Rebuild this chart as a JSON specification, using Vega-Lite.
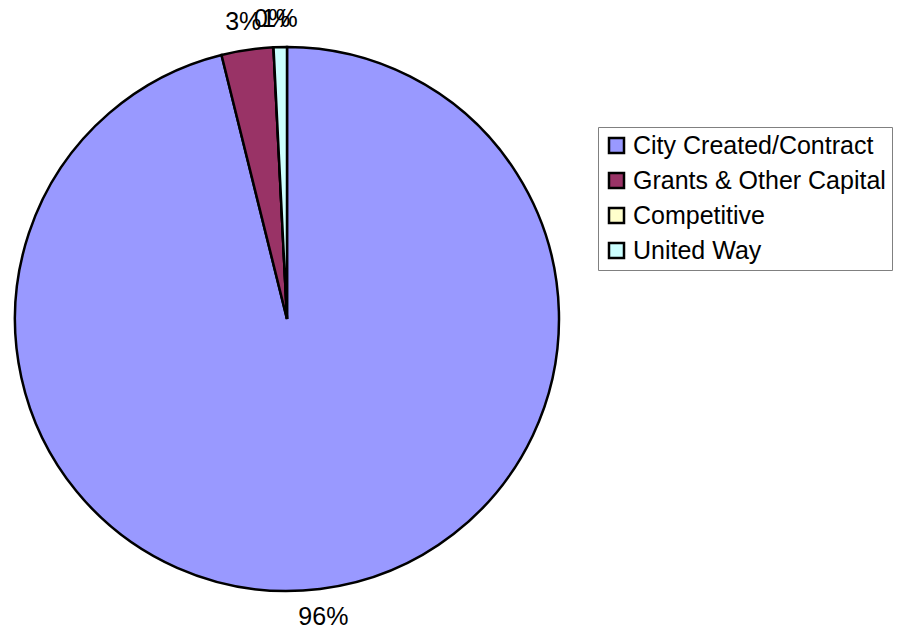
{
  "$schema": "https://vega.github.io/schema/vega-lite/v6.json",
  "width": 574,
  "height": 638,
  "autosize": {"type": "none"},
  "padding": {"left": 0, "top": 0, "right": 323, "bottom": 0},
  "background": "white",
  "config": {"view": {"stroke": null}, "font": "Liberation Sans"},
  "data": {
    "values": [
      {"category": "City Created/Contract", "value": 96.13, "label": "96%", "rank": 1},
      {"category": "Grants & Other Capital", "value": 3.08, "label": "3%", "rank": 2},
      {"category": "Competitive", "value": 0.0, "label": "0%", "rank": 3},
      {"category": "United Way", "value": 0.79, "label": "1%", "rank": 4}
    ]
  },
  "encoding": {
    "theta": {"field": "value", "type": "quantitative", "stack": true},
    "order": {"field": "rank", "type": "quantitative"}
  },
  "layer": [
    {
      "mark": {"type": "arc", "radius": 272, "stroke": "black", "strokeWidth": 2.5},
      "encoding": {
        "color": {
          "field": "category",
          "type": "nominal",
          "scale": {
            "domain": ["City Created/Contract", "Grants & Other Capital", "Competitive", "United Way"],
            "range": ["#9999FF", "#993366", "#FFFFCC", "#CCFFFF"]
          },
          "legend": {
            "title": null,
            "orient": "none",
            "legendX": 598,
            "legendY": 127,
            "symbolType": "square",
            "symbolSize": 225,
            "symbolStrokeColor": "black",
            "symbolStrokeWidth": 2.5,
            "labelFontSize": 25,
            "labelFont": "Liberation Sans",
            "labelColor": "black",
            "labelOffset": 4,
            "labelLimit": 400,
            "rowPadding": 9,
            "padding": 6,
            "strokeColor": "#808080",
            "fillColor": "white"
          }
        }
      }
    },
    {
      "mark": {"type": "text", "radius": 300, "fontSize": 25, "font": "Liberation Sans", "color": "black"},
      "encoding": {"text": {"field": "label"}}
    }
  ]
}
